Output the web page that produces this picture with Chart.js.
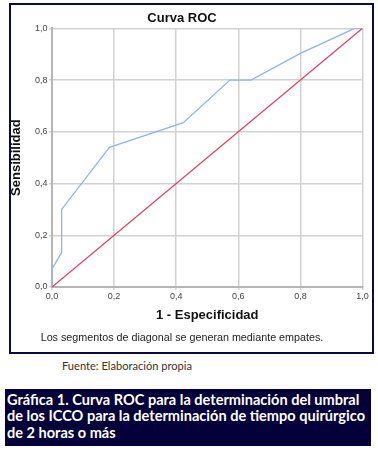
<!DOCTYPE html>
<html>
<head>
<meta charset="utf-8">
<script src="https://cdn.jsdelivr.net/npm/chart.js@4.4.1/dist/chart.umd.min.js"></script>
<style>
html,body{margin:0;padding:0;background:#fff;width:378px;height:452px;overflow:hidden;position:relative;}
#frame{position:absolute;left:9px;top:3px;width:365px;height:351px;box-sizing:border-box;border:2.5px solid #0a0a45;}
#wrap{position:absolute;left:0;top:0;width:378px;height:352px;}
#fuente{position:absolute;left:62px;top:358px;font-family:Lato,"Open Sans",sans-serif;font-size:11px;color:#333;white-space:nowrap;line-height:16px;}
#fuente span{display:inline-block;transform-origin:0 50%;}
#caption{position:absolute;left:5px;top:389px;width:366px;height:57px;background:#04003a;color:#fff;box-sizing:border-box;padding:2.6px 0 0 2.3px;font-family:Lato,sans-serif;font-weight:700;font-size:14.6px;}
#caption div{white-space:nowrap;line-height:16.7px;height:16.7px;}
#caption span{display:inline-block;transform-origin:0 50%;}
</style>
</head>
<body>
<div id="frame"></div>
<div id="wrap"><canvas id="c" width="378" height="352"></canvas></div>
<div id="fuente"><span id="fuenteText">Fuente: Elaboración propia</span></div>
<div id="caption">
<div><span class="cl">Gráfica 1. Curva ROC para la determinación del umbral</span></div>
<div><span class="cl">de los ICCO para la determinación de tiempo quirúrgico</span></div>
<div><span class="cl">de 2 horas o más</span></div>
</div>
<script>
// ---- Data ----
const rocX = [0, 0, 0.031, 0.031, 0.185, 0.423, 0.573, 0.641, 0.80, 0.975, 1.0];
const rocY = [0, 0.07, 0.133, 0.30, 0.54, 0.635, 0.80, 0.80, 0.903, 1.0, 1.0];
const diagX = [0, 1];
const diagY = [0, 1];
const tickLabels = ['0,0', '0,2', '0,4', '0,6', '0,8', '1,0'];
const chartTitle = 'Curva ROC';
const xTitle = '1 - Especificidad';
const yTitle = 'Sensibilidad';
const footnote = 'Los segmentos de diagonal se generan mediante empates.';

// ---- Fit caption texts (condense horizontally to the reference widths) ----
(function(){
  const spans = document.querySelectorAll('#caption .cl');
  let maxW = 0;
  spans.forEach(s => { maxW = Math.max(maxW, s.getBoundingClientRect().width); });
  if (maxW > 0) {
    const k = 358 / maxW;
    spans.forEach(s => { s.style.transform = 'scaleX(' + k + ')'; });
  }
  const ft = document.getElementById('fuenteText');
  const fw = ft.getBoundingClientRect().width;
  if (fw > 0) ft.style.transform = 'scaleX(' + (130 / fw) + ')';
})();

const FONT = "'Liberation Sans', Arial, Helvetica, sans-serif";
Chart.defaults.font.family = FONT;

const toPts = (xs, ys) => xs.map((x, i) => ({x: x, y: ys[i]}));
const fmt = v => tickLabels[Math.round(v / 0.2)];

new Chart(document.getElementById('c'), {
  type: 'scatter',
  data: {
    datasets: [
      {
        label: 'Diagonal',
        data: toPts(diagX, diagY),
        showLine: true,
        borderColor: '#e23d63',
        borderWidth: 1.3,
        pointRadius: 0,
        tension: 0
      },
      {
        label: 'ROC',
        data: toPts(rocX, rocY),
        showLine: true,
        borderColor: '#8db6ee',
        borderWidth: 1.3,
        pointRadius: 0,
        tension: 0
      }
    ]
  },
  options: {
    responsive: false,
    animation: false,
    events: [],
    layout: { padding: { left: 1.5, right: 15.5, top: 5, bottom: 0 } },
    plugins: {
      legend: { display: false },
      tooltip: { enabled: false },
      title: {
        display: true,
        text: chartTitle,
        color: '#111',
        font: { size: 13, weight: 'bold', lineHeight: 1.2 },
        padding: { top: 6, bottom: 1.7 }
      },
      subtitle: {
        display: true,
        position: 'bottom',
        text: footnote,
        color: '#222',
        font: { size: 10.75, weight: 'normal', lineHeight: 1.2 },
        padding: { top: 0, bottom: 7.85 }
      }
    },
    scales: {
      x: {
        type: 'linear',
        min: 0, max: 1,
        afterFit: s => { s.height = 44.25; },
        ticks: { stepSize: 0.2, callback: fmt, color: '#444', font: { size: 9 }, padding: 1.5, maxRotation: 0 },
        grid: { color: '#d2d2d2', lineWidth: 1.5, tickLength: 3, drawTicks: true },
        border: { color: '#b5b5b5', width: 2 },
        title: { display: true, text: xTitle, color: '#111', font: { size: 13, weight: 'bold', lineHeight: 1.2 }, padding: { top: 0, bottom: 8.45 } }
      },
      y: {
        type: 'linear',
        min: 0, max: 1,
        afterFit: s => { s.width = 50.5; },
        ticks: { stepSize: 0.2, callback: fmt, color: '#444', font: { size: 9 }, padding: 1.5 },
        grid: { color: '#d2d2d2', lineWidth: 1.5, tickLength: 3, drawTicks: true },
        border: { color: '#b5b5b5', width: 2 },
        title: { display: true, text: yTitle, color: '#111', font: { size: 13, weight: 'bold', lineHeight: 1.2 }, padding: { top: 7, bottom: 0 } }
      }
    }
  }
});
</script>
</body>
</html>
